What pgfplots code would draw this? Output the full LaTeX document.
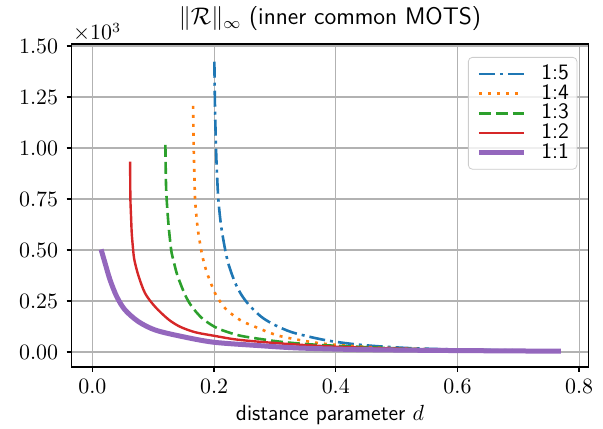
\documentclass[border=0pt]{standalone}
\usepackage{pgfplots}
\pgfplotsset{compat=1.18}
\usetikzlibrary{calc}
\definecolor{c1}{HTML}{1F77B4}
\definecolor{c2}{HTML}{FF7F0E}
\definecolor{c3}{HTML}{2CA02C}
\definecolor{c4}{HTML}{D62728}
\definecolor{c5}{HTML}{9467BD}
\begin{document}
\sffamily
\begin{tikzpicture}
\begin{axis}[
  scale only axis, width=258.3pt, height=161.5pt,
  xmin=-0.034, xmax=0.815, ymin=-0.0735, ymax=1.51,
  xtick={0,0.2,0.4,0.6,0.8}, ytick={0,0.25,0.5,0.75,1,1.25,1.5},
  xticklabel style={/pgf/number format/.cd, fixed, fixed zerofill, precision=1},
  yticklabel style={xshift=-0.8pt, /pgf/number format/.cd, fixed, fixed zerofill, precision=2},
  tick align=outside, tick pos=left,
  major tick length=2.5pt,
  grid=major, grid style={color=black!30, line width=0.55pt},
  axis line style={line width=0.8pt},
  every tick/.style={black, line width=0.7pt},
  tick label style={font=\fontsize{11}{12}\selectfont},
  title={$\|\mathcal{R}\|_\infty$ (inner common MOTS)},
  title style={font=\fontsize{12}{14}\selectfont, yshift=-3pt},
  xlabel={distance parameter $d$},
  xlabel style={font=\fontsize{11}{13}\selectfont, yshift=1pt},
  legend style={at={(1,1)}, anchor=north east, xshift=-5.5pt, yshift=-6.5pt,
    draw=black!20, rounded corners=2pt, fill=white, fill opacity=0.8, text opacity=1,
    font=\fontsize{11}{11}\selectfont, row sep=2.35pt, column sep=7.5pt,
    inner xsep=4pt, inner ysep=4.5pt,
    nodes={inner sep=0pt, text height=6.5pt, text depth=1pt}},
  legend cell align=left,
  legend image code/.code={\draw[#1] (0pt,0pt) -- (22.5pt,0pt);},
]
\addplot[c1, line width=1.3pt, smooth, tension=0.5, dash pattern=on 8pt off 2.5pt on 1.5pt off 2.5pt] coordinates {
(0.2005,1.423) (0.2015,1.20) (0.2033,0.990) (0.2050,0.86) (0.2071,0.745) (0.2110,0.63)
(0.2153,0.549) (0.2200,0.475) (0.2250,0.418) (0.2345,0.340) (0.2450,0.280) (0.2570,0.232)
(0.2702,0.192) (0.2810,0.165) (0.3000,0.132) (0.3300,0.095) (0.3850,0.057) (0.4450,0.034)
(0.5220,0.019) (0.62,0.011) (0.77,0.006)};
\addlegendentry{1:5}
\addplot[c2, line width=1.3pt, smooth, tension=0.5, dash pattern=on 1.5pt off 3pt] coordinates {
(0.1655,1.207) (0.1660,1.10) (0.1666,0.99) (0.1677,0.86) (0.1688,0.745) (0.1715,0.65)
(0.1742,0.582) (0.1798,0.484) (0.1850,0.42) (0.1906,0.369) (0.2016,0.288) (0.2100,0.247)
(0.2209,0.206) (0.2427,0.157) (0.2670,0.124) (0.3085,0.078) (0.374,0.043) (0.445,0.026)
(0.53,0.015) (0.62,0.009) (0.77,0.005)};
\addlegendentry{1:4}
\addplot[c3, line width=1.3pt, smooth, tension=0.5, dash pattern=on 6pt off 2.5pt] coordinates {
(0.1200,1.015) (0.1205,0.90) (0.1215,0.78) (0.1249,0.631) (0.1295,0.50) (0.1331,0.451)
(0.1387,0.385) (0.1441,0.340) (0.1523,0.280) (0.1606,0.235) (0.1700,0.198) (0.1824,0.160)
(0.2000,0.125) (0.2150,0.105) (0.2427,0.080) (0.2756,0.064) (0.3100,0.050) (0.3600,0.037)
(0.4400,0.025) (0.53,0.015) (0.62,0.009) (0.77,0.005)};
\addlegendentry{1:3}
\addplot[c4, line width=1.2pt, smooth, tension=0.5] coordinates {
(0.0620,0.933) (0.0622,0.84) (0.0625,0.745) (0.0636,0.66) (0.0647,0.582) (0.0670,0.50)
(0.0690,0.451) (0.0756,0.375) (0.0866,0.288) (0.1030,0.222) (0.1249,0.160) (0.1440,0.124)
(0.1688,0.097) (0.1990,0.080) (0.2345,0.062) (0.2756,0.050) (0.333,0.037) (0.40,0.026)
(0.48,0.018) (0.58,0.011) (0.68,0.008) (0.77,0.005)};
\addlegendentry{1:2}
\addplot[c5, line width=2.5pt, smooth, tension=0.5] coordinates {
(0.0143,0.503) (0.0209,0.435) (0.0291,0.353) (0.0401,0.271) (0.0537,0.206) (0.0756,0.149)
(0.1030,0.108) (0.1440,0.078) (0.1990,0.048) (0.2756,0.031) (0.336,0.020) (0.42,0.013)
(0.52,0.009) (0.65,0.006) (0.77,0.004)};
\addlegendentry{1:1}
\end{axis}
\node[anchor=base west, inner sep=0pt, font=\fontsize{10.5}{12}\selectfont] at ($(current axis.north west)+(0.5pt,2pt)$) {$\times10^{3}$};
\pgfresetboundingbox
\path[use as bounding box] ($(current axis.south west)+(-35.85pt,-31pt)$) rectangle ($(current axis.north east)+(7.35pt,22pt)$);
\end{tikzpicture}
\end{document}
